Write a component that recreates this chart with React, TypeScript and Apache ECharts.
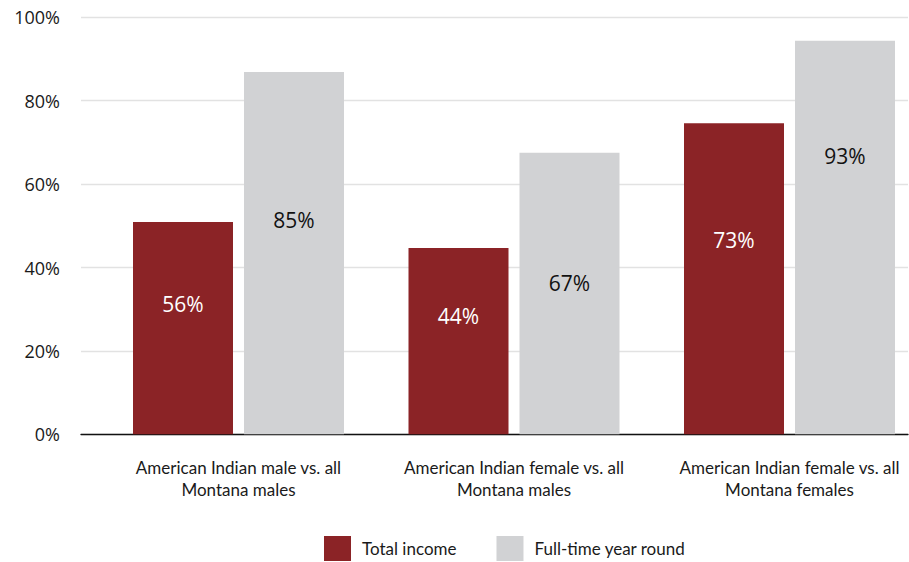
import React, { useEffect, useRef } from "react";
import * as echarts from "echarts";

const categories = [
  "American Indian male vs. all\nMontana males",
  "American Indian female vs. all\nMontana males",
  "American Indian female vs. all\nMontana females",
];
const seriesNames = ["Total income", "Full-time year round"];
const totalIncome = [50.9, 44.7, 74.6];
const fullTime = [86.9, 67.5, 94.4];
const totalIncomeLabels = ["56%", "44%", "73%"];
const fullTimeLabels = ["85%", "67%", "93%"];
const yTicks = [0, 20, 40, 60, 80, 100];

// label vertical placement inside each bar (fraction of bar height from the top)
const totalLabelY = ["38.6%", "36.3%", "37.6%"];
const fullLabelY = ["40.9%", "46.2%", "29.3%"];

const RED = "#8B2326";
const GRAY = "#D1D2D4";

export default function App() {
  const ref = useRef<HTMLDivElement>(null);
  useEffect(() => {
    if (!ref.current) return;
    const chart = echarts.init(ref.current, undefined, { renderer: "svg" });
    const mk = (vals: number[], labels: string[], ys: string[], color: string) =>
      vals.map((v, i) => ({
        value: v,
        label: {
          show: true,
          position: ["50%", ys[i]],
          align: "center",
          verticalAlign: "middle",
          formatter: labels[i],
          color,
          fontFamily: "Open Sans",
          fontSize: 21,
        },
      }));
    chart.setOption({
      animation: false,
      grid: [
        { left: 81, width: 827, top: 17.3, height: 417 },
        { left: 100.75, width: 826.5, top: 17.3, height: 417 },
      ],
      xAxis: [
        {
          type: "category",
          gridIndex: 0,
          data: categories.map(() => ""),
          axisLine: { lineStyle: { color: "#111", width: 1.3 } },
          axisTick: { show: false },
          axisLabel: { show: false },
        },
        {
          type: "category",
          gridIndex: 1,
          data: categories,
          axisLine: { show: false },
          axisTick: { show: false },
          axisLabel: {
            interval: 0,
            margin: 22,
            fontFamily: "Lato",
            fontSize: 17,
            lineHeight: 22,
            color: "#1a1a1a",
          },
        },
      ],
      yAxis: [
        {
          type: "value",
          gridIndex: 0,
          min: yTicks[0],
          max: yTicks[yTicks.length - 1],
          interval: yTicks[1] - yTicks[0],
          axisLine: { show: false },
          axisTick: { show: false },
          axisLabel: {
            formatter: "{value}%",
            margin: 21,
            fontFamily: "Open Sans",
            fontSize: 18,
            color: "#1a1a1a",
          },
          splitLine: { lineStyle: { color: "#E2E2E2", width: 1.3 } },
        },
        {
          type: "value",
          gridIndex: 1,
          min: yTicks[0],
          max: yTicks[yTicks.length - 1],
          show: false,
          splitLine: { show: false },
        },
      ],
      legend: {
        data: seriesNames,
        left: 324,
        top: 536,
        padding: 0,
        itemWidth: 27,
        itemHeight: 25,
        itemGap: 40,
        icon: "rect",
        textStyle: {
          fontFamily: "Lato",
          fontSize: 17,
          lineHeight: 18,
          color: "#1a1a1a",
          padding: [4, 0, 0, 6],
        },
      },
      series: [
        {
          name: seriesNames[0],
          type: "bar",
          xAxisIndex: 1,
          yAxisIndex: 1,
          barWidth: 100,
          barGap: "11%",
          itemStyle: { color: RED },
          data: mk(totalIncome, totalIncomeLabels, totalLabelY, "#ffffff"),
        },
        {
          name: seriesNames[1],
          type: "bar",
          xAxisIndex: 1,
          yAxisIndex: 1,
          barWidth: 100,
          barGap: "11%",
          itemStyle: { color: GRAY },
          data: mk(fullTime, fullTimeLabels, fullLabelY, "#111111"),
        },
      ],
    });
    return () => chart.dispose();
  }, []);
  return (
    <div
      style={{
        position: "absolute",
        left: 0,
        top: 0,
        width: 909,
        height: 562,
        overflow: "hidden",
      }}
    >
      <div ref={ref} style={{ width: 940, height: 562 }} />
    </div>
  );
}
